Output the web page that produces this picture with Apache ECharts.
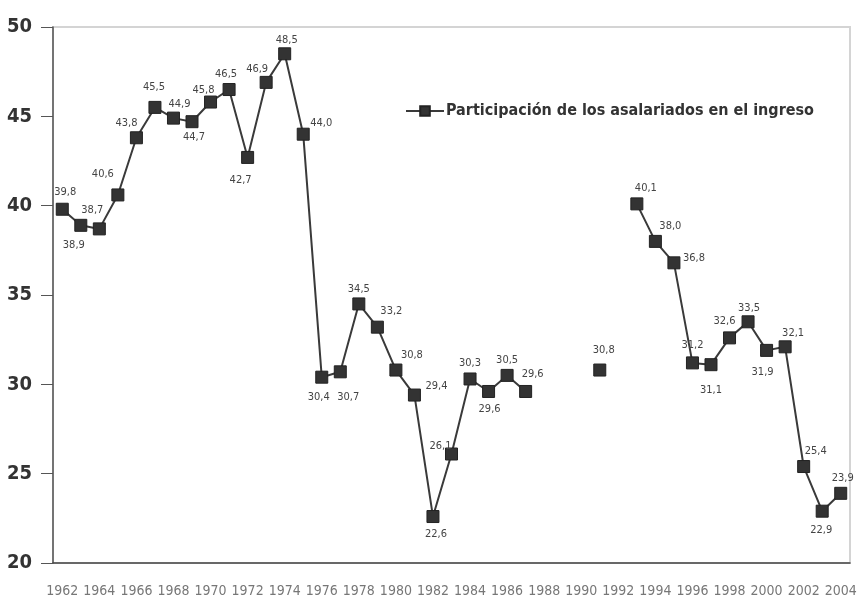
<!DOCTYPE html>
<html>

<head>
    <meta charset="utf-8">
    <title>ECharts</title>
    <script src="https://cdn.jsdelivr.net/npm/echarts@6/dist/echarts.min.js"></script>
</head>

<body style="margin:0;background:#fff;">
    <div id="main" style="width: 861px;height:598px;"></div>
    <script type="text/javascript">
        // datos
        var years = [];
        for (var y = 1962; y <= 2004; y++) years.push(String(y));

        var seriesName = 'Participación de los asalariados en el ingreso';
        var values = [
            39.8, 38.9, 38.7, 40.6, 43.8, 45.5, 44.9, 44.7, 45.8, 46.5,   // 1962-1971
            42.7, 46.9, 48.5, 44.0, 30.4, 30.7, 34.5, 33.2, 30.8, 29.4,   // 1972-1981
            22.6, 26.1, 30.3, 29.6, 30.5, 29.6, '-', '-', '-', 30.8,      // 1982-1991
            '-', 40.1, 38.0, 36.8, 31.2, 31.1, 32.6, 33.5, 31.9, 32.1,    // 1992-2001
            25.4, 22.9, 23.9                                              // 2002-2004
        ];
        var yTicks = [20, 25, 30, 35, 40, 45, 50];

        // desplazamiento de cada etiqueta respecto al punto [dx, dy]
        var labelOffset = {
            1962: [3, -17], 1963: [-7, 20], 1964: [-7, -19], 1965: [-15, -21], 1966: [-10, -15],
            1967: [-1, -20], 1968: [6, -14], 1969: [2, 15], 1970: [-7, -12], 1971: [-3, -15],
            1972: [-7, 23], 1973: [-9, -13], 1974: [2, -14], 1975: [18, -11], 1976: [-3, 20],
            1977: [8, 25], 1978: [0, -15], 1979: [14, -16], 1980: [16, -15], 1981: [22, -9],
            1982: [3, 18], 1983: [-11, -8], 1984: [0, -16], 1985: [1, 18], 1986: [0, -15],
            1987: [7, -17], 1991: [4, -20], 1993: [9, -16], 1994: [15, -15], 1995: [20, -5],
            1996: [0, -18], 1997: [0, 25], 1998: [-5, -17], 1999: [1, -14], 2000: [-4, 22],
            2001: [8, -14], 2002: [12, -15], 2003: [-1, 19], 2004: [2, -15]
        };

        var narrow = '"Liberation Sans Narrow", "DejaVu Sans Condensed", sans-serif';

        var points = values.map(function (v, i) {
            if (v === '-') return '-';
            var off = labelOffset[years[i]] || [0, -15];
            return { value: v, label: { offset: off } };
        });

        var myChart = echarts.init(document.getElementById('main'));

        myChart.setOption({
            animation: false,
            backgroundColor: '#fff',
            grid: {
                left: 53,
                right: 11,
                top: 27,
                bottom: 35,
                show: true,
                borderColor: '#d4d4d4',
                borderWidth: 2
            },
            legend: {
                left: 400,
                top: 98,
                itemWidth: 38,
                itemHeight: 12,
                itemGap: 4,
                data: [seriesName],
                textStyle: {
                    fontFamily: narrow,
                    fontWeight: 'bold',
                    fontSize: 16,
                    color: '#333',
                    padding: [0, 0, 0, -3]
                }
            },
            xAxis: {
                type: 'category',
                data: years,
                boundaryGap: true,
                axisLine: { lineStyle: { color: '#444', width: 1.5 } },
                axisTick: { interval: 0, length: 8, lineStyle: { color: '#444' } },
                axisLabel: {
                    interval: 1,
                    margin: 21,
                    fontFamily: narrow,
                    fontSize: 14,
                    color: '#777'
                }
            },
            yAxis: {
                type: 'value',
                min: yTicks[0],
                max: yTicks[yTicks.length - 1],
                interval: 5,
                splitLine: { show: false },
                axisLine: { show: true, lineStyle: { color: '#555', width: 1.5 } },
                axisTick: { show: true, length: 12, lineStyle: { color: '#555' } },
                axisLabel: {
                    margin: 21,
                    fontFamily: narrow,
                    fontWeight: 'bold',
                    fontSize: 20,
                    color: '#333'
                }
            },
            series: [{
                name: seriesName,
                type: 'line',
                data: points,
                connectNulls: false,
                symbol: 'rect',
                symbolSize: 12,
                showAllSymbol: true,
                color: '#333',
                lineStyle: { color: '#3a3a3a', width: 2 },
                itemStyle: { color: '#333', borderColor: '#222', borderWidth: 1 },
                label: {
                    show: true,
                    position: 'inside',
                    fontFamily: narrow,
                    fontSize: 11,
                    color: '#444',
                    formatter: function (p) {
                        return p.value.toFixed(1).replace('.', ',');
                    }
                }
            }]
        });
    </script>
</body>

</html>
